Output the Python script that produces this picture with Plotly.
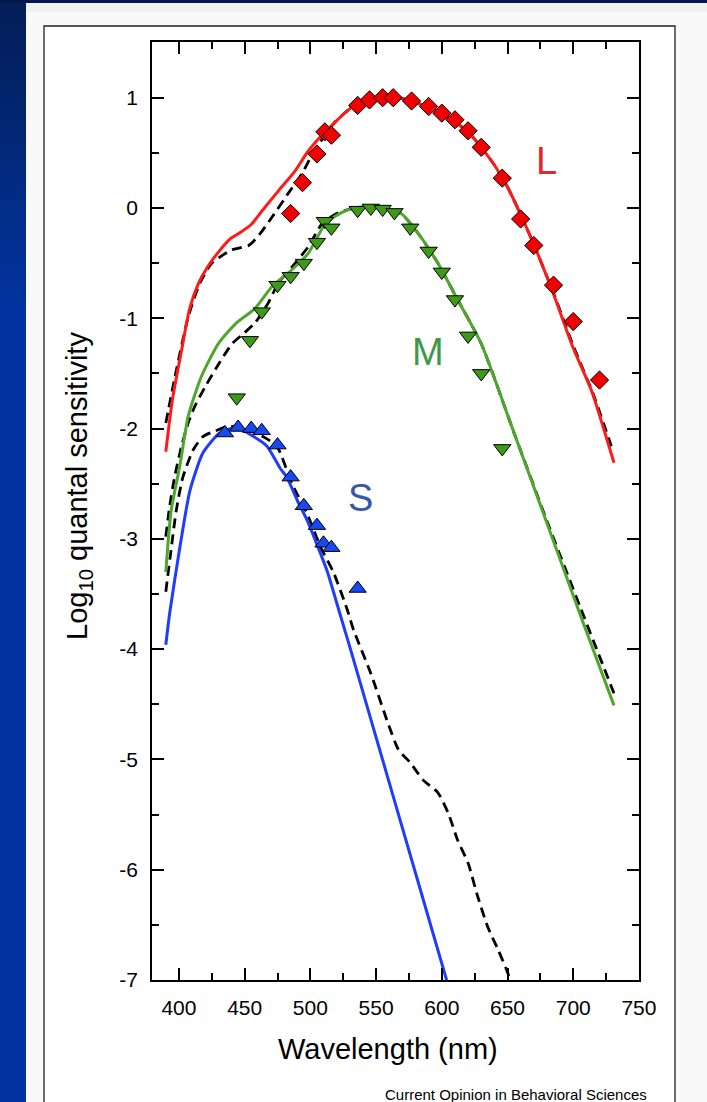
import plotly.graph_objects as go

# ---------------- data ----------------
# measured points (wavelength nm, log10 quantal sensitivity)
L_wl = [485, 494, 505, 511, 516, 536, 545, 555, 563, 577, 590, 600, 610, 620, 630, 646, 660, 670, 685, 700, 720]
L_val = [-0.05, 0.23, 0.49, 0.69, 0.66, 0.93, 0.98, 1.00, 1.00, 0.97, 0.92, 0.86, 0.80, 0.70, 0.55, 0.27, -0.10, -0.34, -0.70, -1.03, -1.56]

M_wl = [444, 454, 463, 475, 485, 495, 505, 511, 516, 536, 546, 555, 564, 576, 590, 600, 610, 620, 630, 646]
M_val = [-1.72, -1.20, -0.94, -0.70, -0.62, -0.50, -0.31, -0.12, -0.18, -0.02, 0.00, -0.01, -0.04, -0.18, -0.39, -0.58, -0.83, -1.16, -1.50, -2.18]

S_wl = [435, 445, 455, 463, 475, 485, 495, 505, 510, 516, 536]
S_val = [-2.04, -1.99, -2.00, -2.02, -2.15, -2.44, -2.70, -2.88, -3.04, -3.08, -3.45]

# solid template curves
L_fit_wl = [390, 395, 402, 408, 415, 422, 430, 439, 447, 455, 463, 476, 488, 498, 508, 518, 527, 536, 546, 557,
            567, 577, 590, 600, 610, 620, 630, 640, 650, 660, 670, 685, 700, 714, 731]
L_fit = [-2.21, -1.74, -1.29, -0.92, -0.68, -0.53, -0.40, -0.28, -0.22, -0.15, -0.03, 0.16, 0.33, 0.51, 0.65, 0.77,
         0.87, 0.95, 0.99, 1.01, 1.00, 0.97, 0.91, 0.85, 0.78, 0.69, 0.55, 0.39, 0.19, -0.06, -0.33, -0.78, -1.27, -1.66, -2.31]

M_fit_wl = [390, 394, 400.8, 407, 417, 430, 443, 458, 471, 486, 498.5, 511.5, 524, 534, 545, 557, 569, 582, 597,
            612, 630, 655, 681, 706, 731]
M_fit = [-3.30, -2.75, -2.33, -1.89, -1.53, -1.23, -1.05, -0.91, -0.71, -0.56, -0.41, -0.14, -0.04, 0.00, 0.01,
         -0.01, -0.05, -0.23, -0.50, -0.83, -1.23, -2.04, -2.89, -3.71, -4.51]

S_fit_wl = [390, 393, 400.8, 408.4, 418.3, 431, 444, 456.5, 467, 477, 482, 490, 497.5, 505, 513, 523, 530, 550, 570, 590, 610]
S_fit = [-3.96, -3.67, -3.07, -2.56, -2.22, -2.04, -1.99, -2.07, -2.16, -2.36, -2.44, -2.65, -2.83, -3.05, -3.30,
         -3.70, -3.98, -4.80, -5.62, -6.44, -7.26]

# dashed alternative curves
L_dash_wl = [390, 397, 407, 416, 425, 433, 440, 447, 453, 460, 471, 483, 494, 502, 510, 518, 527, 536, 546, 557,
             567, 577, 590, 600, 610, 620, 630, 640, 650, 660, 670, 685, 700, 715, 729]
L_dash = [-1.95, -1.53, -0.99, -0.68, -0.50, -0.43, -0.38, -0.36, -0.34, -0.26, -0.08, 0.13, 0.32, 0.50, 0.64, 0.77,
          0.87, 0.95, 0.99, 1.01, 1.00, 0.97, 0.91, 0.85, 0.78, 0.69, 0.55, 0.39, 0.19, -0.06, -0.33, -0.77, -1.25, -1.68, -2.16]

M_dash_wl = [390, 393, 397, 402, 407, 412, 420, 430, 440.5, 450, 458, 468, 475.6, 488.5, 498.5, 509, 520, 534, 545,
             557, 569, 582, 597, 612, 630, 655, 681, 706, 731]
M_dash = [-2.98, -2.70, -2.42, -2.16, -1.95, -1.80, -1.62, -1.42, -1.23, -1.13, -1.04, -0.86, -0.68, -0.50, -0.35,
          -0.14, -0.05, 0.00, 0.01, -0.01, -0.05, -0.23, -0.50, -0.83, -1.23, -2.04, -2.87, -3.64, -4.40]

S_dash_wl = [390, 394, 398, 403, 411, 418.5, 428, 437, 450, 465, 474.5, 486, 497.5, 507.6, 517.8, 528, 533, 546, 559,
             567, 576, 586, 597, 605, 612, 620, 627.5, 635, 643, 650, 653]
S_dash = [-3.48, -3.10, -2.74, -2.44, -2.19, -2.07, -2.02, -1.98, -2.00, -2.08, -2.16, -2.50, -2.77, -3.07, -3.31,
          -3.64, -3.83, -4.22, -4.67, -4.91, -5.03, -5.19, -5.30, -5.49, -5.73, -5.94, -6.25, -6.52, -6.73, -6.93, -7.05]

x_ticks = [400, 450, 500, 550, 600, 650, 700, 750]
y_ticks = [1, 0, -1, -2, -3, -4, -5, -6, -7]
y_tick_text = ["1", "0", "-1", "-2", "-3", "-4", "-5", "-6", "-7"]

# ---------------- styling ----------------
W, H = 707, 1102
PL, PR, PT, PB = 152, 639, 42, 980
FONT = "Liberation Sans, Arial, Helvetica, sans-serif"

RED_LINE = "#ff1a1a"
GRN_LINE = "#4ea62c"
BLU_LINE = "#1f3cff"


def px_x(p):
    return (p - PL) / (PR - PL)


def px_y(p):
    return (PB - p) / (PB - PT)


fig = go.Figure()

dash_style = dict(color="black", width=2.8, dash="10px,6px")
for wl, v in [(L_dash_wl, L_dash), (M_dash_wl, M_dash), (S_dash_wl, S_dash)]:
    fig.add_trace(go.Scatter(x=wl, y=v, mode="lines", line=dict(shape="spline", smoothing=0.6, **dash_style),
                             hoverinfo="skip", showlegend=False))

for wl, v, c in [(L_fit_wl, L_fit, RED_LINE), (M_fit_wl, M_fit, GRN_LINE), (S_fit_wl, S_fit, BLU_LINE)]:
    fig.add_trace(go.Scatter(x=wl, y=v, mode="lines",
                             line=dict(color=c, width=3.0, shape="spline", smoothing=0.6),
                             hoverinfo="skip", showlegend=False))

fig.add_trace(go.Scatter(x=S_wl, y=S_val, mode="markers",
                         marker=dict(symbol="triangle-up", size=15, color="#1748f0",
                                     line=dict(color="black", width=1)), showlegend=False))
fig.add_trace(go.Scatter(x=M_wl, y=M_val, mode="markers",
                         marker=dict(symbol="triangle-down", size=15, color="#3c9a16",
                                     line=dict(color="black", width=1)), showlegend=False))
fig.add_trace(go.Scatter(x=L_wl, y=L_val, mode="markers",
                         marker=dict(symbol="diamond", size=14, color="#f00000",
                                     line=dict(color="black", width=1)), showlegend=False))

# background shapes (frame of the slide)
shapes = [
    dict(type="rect", xref="paper", yref="paper", x0=px_x(0), x1=px_x(W), y0=px_y(H), y1=px_y(0),
         fillcolor="#f9f9f9", line=dict(width=0), layer="below"),
    dict(type="rect", xref="paper", yref="paper", x0=px_x(0), x1=px_x(26), y0=px_y(H), y1=px_y(0),
         fillcolor="#0134a0", line=dict(width=0), layer="below"),
]
# smooth dark-to-blue gradient at the top of the left strip
top_rgb = (3, 30, 88)
bot_rgb = (1, 52, 160)
n_band = 16
band_h = 320 / n_band
for i in range(n_band):
    t = i / (n_band - 1)
    r, g, b = [int(round(a + (c - a) * t)) for a, c in zip(top_rgb, bot_rgb)]
    shapes.append(dict(type="rect", xref="paper", yref="paper", x0=px_x(0), x1=px_x(26),
                       y0=px_y((i + 1) * band_h + 0.5), y1=px_y(i * band_h),
                       fillcolor=f"rgb({r},{g},{b})", line=dict(width=0), layer="below"))
shapes += [
    dict(type="rect", xref="paper", yref="paper", x0=px_x(0), x1=px_x(W), y0=px_y(3), y1=px_y(0),
         fillcolor="#03184a", line=dict(width=0), layer="below"),
    dict(type="rect", xref="paper", yref="paper", x0=px_x(26), x1=px_x(W), y0=px_y(12), y1=px_y(3),
         fillcolor="#f1f1f1", line=dict(width=0), layer="below"),
    dict(type="rect", xref="paper", yref="paper", x0=px_x(44), x1=px_x(675), y0=px_y(H + 20), y1=px_y(26),
         fillcolor="white", line=dict(color="#222222", width=1.3), layer="below"),
]

annotations = [
    dict(text="L", x=680, y=0.43, xref="x", yref="y", showarrow=False,
         font=dict(family=FONT, size=38, color="#e3262d")),
    dict(text="M", x=589.5, y=-1.31, xref="x", yref="y", showarrow=False,
         font=dict(family=FONT, size=38, color="#3a9a4a")),
    dict(text="S", x=538.5, y=-2.63, xref="x", yref="y", showarrow=False,
         font=dict(family=FONT, size=38, color="#3a56a8")),
    dict(text="Wavelength (nm)", x=px_x(388), y=px_y(1049), xref="paper", yref="paper", showarrow=False,
         xanchor="center", yanchor="middle", font=dict(family=FONT, size=29, color="black")),
    dict(text="Log<sub>10</sub> quantal sensitivity", x=px_x(79), y=px_y(486), xref="paper", yref="paper",
         showarrow=False, textangle=-90, xanchor="center", yanchor="middle",
         font=dict(family=FONT, size=29, color="black")),
    dict(text="Current Opinion in Behavioral Sciences", x=px_x(516), y=px_y(1094), xref="paper", yref="paper",
         showarrow=False, xanchor="center", yanchor="middle", font=dict(family=FONT, size=15, color="black")),
]

axis_common = dict(showline=True, linecolor="black", linewidth=1.6, mirror="allticks", ticks="inside",
                   ticklen=12, tickwidth=1.6, tickcolor="black", showgrid=False, zeroline=False,
                   tickfont=dict(family=FONT, size=21, color="black"), automargin=False)

fig.update_layout(
    width=W, height=H,
    margin=dict(l=PL, r=W - PR, t=PT, b=H - PB, pad=0),
    paper_bgcolor="#0134a0", plot_bgcolor="white",
    shapes=shapes, annotations=annotations, showlegend=False,
    xaxis=dict(range=[379.5, 750.05], tickmode="array", tickvals=x_ticks,
               ticktext=[str(v) for v in x_ticks], ticklabelstandoff=8,
               minor=dict(tickmode="linear", tick0=375, dtick=25, ticks="inside", ticklen=7,
                          tickwidth=1.6, tickcolor="black"),
               **axis_common),
    yaxis=dict(range=[-7, 1.505], tickmode="array", tickvals=y_ticks, ticktext=y_tick_text,
               ticklabelstandoff=8,
               minor=dict(tickmode="linear", tick0=0, dtick=0.5, ticks="inside", ticklen=7,
                          tickwidth=1.6, tickcolor="black"),
               **axis_common),
)

fig.write_html("out.html")
